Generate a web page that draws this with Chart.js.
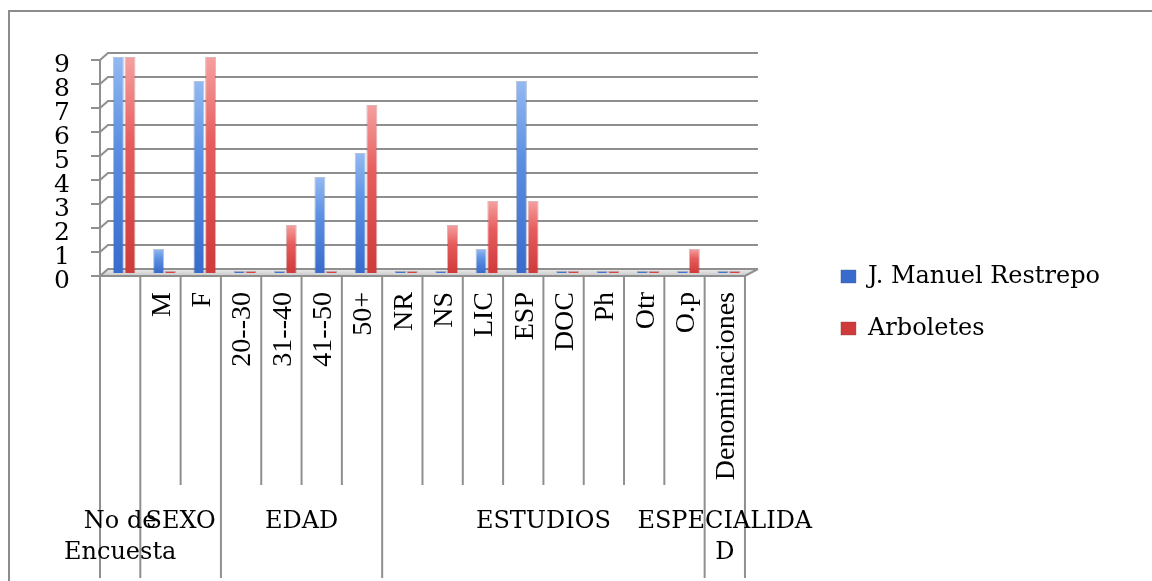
<!DOCTYPE html>
<html>
<head>
<meta charset="utf-8">
<script src="https://cdn.jsdelivr.net/npm/chart.js@4.4.0/dist/chart.umd.min.js"></script>
<style>
  html, body { margin: 0; padding: 0; background: #ffffff; overflow: hidden; }
  #wrap { width: 1152px; height: 581px; position: relative; }
</style>
</head>
<body>
<div id="wrap"><canvas id="c" width="1152" height="581"></canvas></div>
<script>
// Category labels (inner level of the axis)
const categories = ['', 'M', 'F', '20--30', '31--40', '41--50', '50+', 'NR', 'NS', 'LIC', 'ESP', 'DOC', 'Ph', 'Otr', 'O.p', 'Denominaciones'];
// Outer level of the axis: group captions (already split in lines) and how many categories each spans
const groupNames = [['No de', 'Encuesta'], ['SEXO'], ['EDAD'], ['ESTUDIOS'], ['ESPECIALIDA', 'D']];
const groupSizes = [1, 2, 4, 8, 1];
// Series
const seriesNames = ['J. Manuel Restrepo', 'Arboletes'];
const restrepo  = [9, 1, 8, 0, 0, 4, 5, 0, 0, 1, 8, 0, 0, 0, 0, 0];
const arboletes = [9, 0, 9, 0, 2, 0, 7, 0, 2, 3, 3, 0, 0, 0, 1, 0];
// Value axis
const yTicks = [0, 1, 2, 3, 4, 5, 6, 7, 8, 9];

const GRID = '#8f8f8f';
const SERIF = '"Liberation Serif", serif';
const WIDE_SERIF = '"DejaVu Serif", serif';

// Legend geometry: paddings chosen so the plot ends at the wall and the legend sits to its right
const LEGEND_SIZE = 24, LEGEND_PAD = 28, BOX_W = 15, BOX_H = 13;
const meas = document.createElement('canvas').getContext('2d');
meas.font = LEGEND_SIZE + 'px ' + WIDE_SERIF;
const textW = Math.ceil(Math.max(...seriesNames.map(n => meas.measureText(n).width)));
const legendW = LEGEND_PAD + BOX_W + LEGEND_SIZE / 2 + textW + 10;
const legendLeft = 840 - LEGEND_PAD;
const plotRight = 748;
const padRight = Math.max(0, 1152 - legendLeft - legendW);
const gapW = legendLeft - plotRight;

function barFill(light, mid, dark, solid) {
  return (c) => {
    const chart = c.chart;
    const ys = chart.scales && chart.scales.y;
    if (c.type !== 'data' || !ys || !chart.chartArea) return solid;
    const base = ys.getPixelForValue(0);
    const top = Math.min(ys.getPixelForValue(c.raw), base - 3);
    const g = chart.ctx.createLinearGradient(0, top, 0, base);
    g.addColorStop(0, light);
    g.addColorStop(0.4, mid);
    g.addColorStop(1, dark);
    return g;
  };
}

// Let the legend keep the full width of its longest label
const legendWidthPlugin = {
  id: 'legendWidth',
  beforeUpdate(chart) {
    const lg = chart.legend;
    if (lg && !lg._widePatched) {
      const fit = lg.fit.bind(lg);
      lg.fit = function () {
        this.maxWidth = Math.max(this.maxWidth, legendW + 2);
        fit();
      };
      lg._widePatched = true;
    }
  }
};

// White page with the outer frame
const framePlugin = {
  id: 'frame',
  beforeDraw(chart) {
    const ctx = chart.ctx;
    ctx.save();
    ctx.fillStyle = '#ffffff';
    ctx.fillRect(0, 0, chart.width, chart.height);
    ctx.strokeStyle = '#8c8c8c';
    ctx.lineWidth = 2;
    ctx.beginPath();
    ctx.moveTo(9, chart.height + 2);
    ctx.lineTo(9, 11);
    ctx.lineTo(chart.width + 2, 11);
    ctx.stroke();
    ctx.restore();
  }
};

// Back wall, side wall and floor of the 3-D box
const wallPlugin = {
  id: 'walls',
  beforeDatasetsDraw(chart) {
    const { ctx, chartArea: a, scales: { y } } = chart;
    const fl = a.left - 4, fr = a.right - 4, bl = a.left + 4, br = a.right + 9;
    const f0 = y.getPixelForValue(0) + 3, b0 = y.getPixelForValue(0) - 4;
    ctx.save();
    // floor
    const fg = ctx.createLinearGradient(0, b0, 0, f0);
    fg.addColorStop(0, '#ececec');
    fg.addColorStop(1, '#c8c8c8');
    ctx.fillStyle = fg;
    ctx.beginPath();
    ctx.moveTo(fl, f0); ctx.lineTo(fr, f0); ctx.lineTo(br, b0); ctx.lineTo(bl, b0); ctx.closePath();
    ctx.fill();
    ctx.strokeStyle = GRID;
    ctx.lineWidth = 2;
    // gridlines with their side-wall segment and tick mark
    yTicks.forEach(v => {
      const p = y.getPixelForValue(v);
      ctx.beginPath();
      ctx.moveTo(fl - 9, p + 3);
      ctx.lineTo(fl, p + 3);
      ctx.lineTo(bl, p - 4);
      ctx.lineTo(br, p - 4);
      ctx.stroke();
    });
    // value axis line
    ctx.beginPath();
    ctx.moveTo(fl, y.getPixelForValue(yTicks[yTicks.length - 1]) + 3);
    ctx.lineTo(fl, f0);
    ctx.stroke();
    // front and right edge of the floor
    ctx.beginPath();
    ctx.moveTo(fl, f0); ctx.lineTo(fr, f0); ctx.lineTo(br, b0);
    ctx.stroke();
    ctx.restore();
  }
};

// Two-level category axis: separators and group captions
const groupAxisPlugin = {
  id: 'groupAxis',
  afterDraw(chart) {
    const { ctx, scales: { x, y } } = chart;
    const f0 = y.getPixelForValue(0) + 3;
    const edge = i => x.getPixelForValue(i - 0.5) - 4;
    const starts = [0];
    groupSizes.forEach(s => starts.push(starts[starts.length - 1] + s));
    ctx.save();
    ctx.strokeStyle = GRID;
    ctx.lineWidth = 2;
    for (let i = 0; i <= categories.length; i++) {
      const isGroupEdge = starts.includes(i);
      const xx = edge(i);
      ctx.beginPath();
      ctx.moveTo(xx, f0);
      ctx.lineTo(xx, isGroupEdge ? 578 : 485);
      ctx.stroke();
    }
    ctx.fillStyle = '#000000';
    ctx.font = '24px ' + WIDE_SERIF;
    ctx.textAlign = 'center';
    ctx.textBaseline = 'middle';
    groupNames.forEach((lines, g) => {
      const cx = (edge(starts[g]) + edge(starts[g + 1])) / 2;
      lines.forEach((line, k) => ctx.fillText(line, cx, 522 + k * 31));
    });
    ctx.restore();
  }
};

new Chart(document.getElementById('c'), {
  type: 'bar',
  data: {
    labels: categories,
    datasets: [
      {
        label: seriesNames[0],
        data: restrepo,
        backgroundColor: barFill('#93b9f2', '#5c90e2', '#386bcb', '#5a8ee0'),
        borderColor: 'rgba(50,80,140,0.35)',
        borderWidth: 1,
        minBarLength: 2
      },
      {
        label: seriesNames[1],
        data: arboletes,
        backgroundColor: barFill('#f6a0a0', '#e65c5c', '#cf3a3a', '#e26262'),
        borderColor: 'rgba(140,50,50,0.35)',
        borderWidth: 1,
        minBarLength: 2
      }
    ]
  },
  options: {
    responsive: false,
    animation: false,
    devicePixelRatio: 1,
    categoryPercentage: 0.58,
    barPercentage: 0.94,
    layout: { padding: { top: 57, bottom: 33, left: 0, right: padRight } },
    scales: {
      x: {
        grid: { display: false, drawTicks: false },
        border: { display: false },
        ticks: {
          autoSkip: false,
          minRotation: 90,
          maxRotation: 90,
          color: '#000000',
          padding: 19,
          labelOffset: -2,
          font: { family: SERIF, size: 28 }
        },
        afterFit(s) { s.height = 581 - 33 - 273; }
      },
      y: {
        min: 0,
        max: 9,
        grid: { display: false, drawTicks: false },
        border: { display: false },
        ticks: {
          stepSize: 1,
          autoSkip: false,
          color: '#000000',
          padding: 34,
          labelOffset: 8,
          font: { family: WIDE_SERIF, size: 25 }
        },
        afterFit(s) { s.width = 104; }
      },
      gap: {
        position: 'right',
        grid: { display: false, drawTicks: false },
        border: { display: false },
        ticks: { display: false },
        afterFit(s) { s.width = gapW; }
      }
    },
    plugins: {
      tooltip: { enabled: false },
      legend: {
        position: 'right',
        labels: {
          boxWidth: BOX_W,
          boxHeight: BOX_H,
          padding: LEGEND_PAD,
          color: '#000000',
          font: { family: WIDE_SERIF, size: LEGEND_SIZE }
        }
      }
    }
  },
  plugins: [legendWidthPlugin, framePlugin, wallPlugin, groupAxisPlugin]
});
</script>
</body>
</html>
